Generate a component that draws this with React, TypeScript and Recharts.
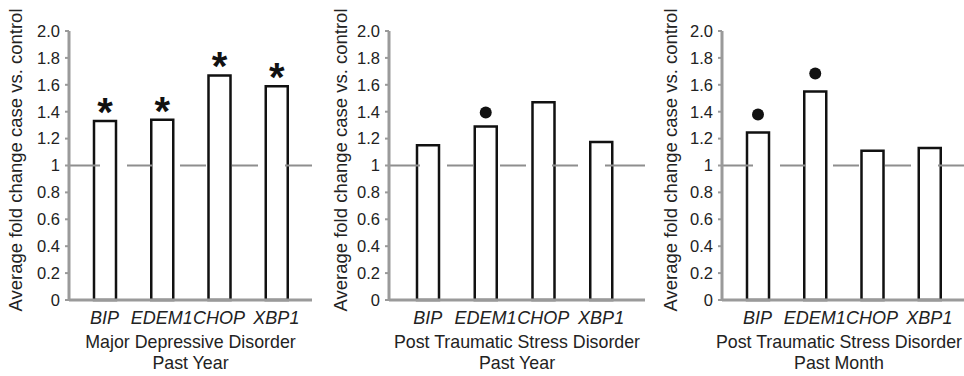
import React from "react";
import { BarChart, Bar, XAxis, YAxis, ReferenceLine, LabelList, Label } from "recharts";

// ---- data ----
const categories = ["BIP", "EDEM1", "CHOP", "XBP1"];
const yTicks = [0, 0.2, 0.4, 0.6, 0.8, 1, 1.2, 1.4, 1.6, 1.8, 2];
const yLabel = "Average fold change case vs. control";

const mddPastYear = [1.33, 1.34, 1.67, 1.59];
const mddPastYearMarks = ["*", "*", "*", "*"];
const mddTitle = ["Major Depressive Disorder", "Past Year"];

const ptsdPastYear = [1.15, 1.29, 1.47, 1.175];
const ptsdPastYearMarks = ["", "dot", "", ""];
const ptsdYearTitle = ["Post Traumatic Stress Disorder", "Past Year"];

const ptsdPastMonth = [1.245, 1.55, 1.11, 1.13];
const ptsdPastMonthMarks = ["dot", "dot", "", ""];
const ptsdMonthTitle = ["Post Traumatic Stress Disorder", "Past Month"];

const controlLevel = 1;

const buildRows = (values: number[], marks: string[]) =>
  categories.map((c, i) => ({ category: c, value: values[i], mark: marks[i] }));

// ---- styles ----
const FONT = "'Liberation Sans', Arial, Helvetica, sans-serif";
const TEXT = "#222";
const AXIS = "#9a9a9a";
const REF = "#8e8e8e";

const fmt = (v: number) => (v === 0 ? "0" : v === 1 ? "1" : v.toFixed(1));

function CatTick(props: any) {
  const { x, y, payload } = props;
  return (
    <text x={x} y={y + 24} textAnchor="middle" fontStyle="italic" fontSize={18} fill={TEXT} fontFamily={FONT}>
      {payload.value}
    </text>
  );
}

type PanelProps = {
  rows: any[];
  title: string[];
  left: number;
  width: number;
  right: number;
  padL: number;
  padR: number;
  labelX: number;
  dotOffset: number;
  titleShift: number;
};

function Panel({ rows, title, left, width, right, padL, padR, labelX, dotOffset, titleShift }: PanelProps) {
  const renderMark = (p: any) => {
    const { x, y, width: w, value } = p;
    if (!value) return null;
    const cx = Number(x) + Number(w) / 2;
    const top = Number(y);
    if (value === "*") {
      return (
        <text x={cx} y={top + 5} textAnchor="middle" fontSize={40} fontWeight="bold" fill="#111" fontFamily={FONT}>
          *
        </text>
      );
    }
    return <circle cx={cx} cy={top - dotOffset} r={6} fill="#111" />;
  };

  const renderYLabel = (p: any) => {
    const vb = p.viewBox || {};
    const bx = (vb.x || 0) + labelX;
    const cy = 160;
    return (
      <text
        x={bx}
        y={cy}
        transform={`rotate(-90, ${bx}, ${cy})`}
        textAnchor="middle"
        fontSize={18.5}
        fill={TEXT}
        fontFamily={FONT}
      >
        {yLabel}
      </text>
    );
  };

  const renderTitle = (p: any) => {
    const vb = p.viewBox || {};
    const cx = (vb.x || 0) + (vb.width || 0) / 2 + titleShift;
    const y0 = vb.y || 0;
    return (
      <g>
        <text x={cx} y={y0 + 48} textAnchor="middle" fontSize={17.8} fill={TEXT} fontFamily={FONT}>
          {title[0]}
        </text>
        <text x={cx} y={y0 + 69} textAnchor="middle" fontSize={17.8} fill={TEXT} fontFamily={FONT}>
          {title[1]}
        </text>
      </g>
    );
  };

  return (
    <div style={{ position: "absolute", left, top: 0, width, height: 376 }}>
      <BarChart
        width={width}
        height={376}
        data={rows}
        margin={{ top: 31, right, bottom: 46, left: 0 }}
        barSize={22}
      >
        <XAxis
          dataKey="category"
          height={30}
          padding={{ left: padL, right: padR }}
          axisLine={{ stroke: AXIS, strokeWidth: 3 }}
          tickLine={false}
          tickSize={0}
          tickMargin={0}
          tick={<CatTick />}
          interval={0}
        >
          <Label content={renderTitle} />
        </XAxis>
        <YAxis
          width={69}
          domain={[0, 2]}
          ticks={yTicks}
          interval={0}
          tickFormatter={fmt}
          axisLine={{ stroke: AXIS, strokeWidth: 3 }}
          tickLine={{ stroke: AXIS, strokeWidth: 2 }}
          tickSize={4}
          tickMargin={5}
          tick={{ fontSize: 16.5, fill: TEXT, fontFamily: FONT }}
        >
          <Label content={renderYLabel} />
        </YAxis>
        <Bar dataKey="value" fill="#fff" stroke="#111" strokeWidth={2.5} isAnimationActive={false}>
          <LabelList dataKey="mark" content={renderMark} />
        </Bar>
        <ReferenceLine
          y={controlLevel}
          stroke={REF}
          strokeWidth={2}
          strokeDasharray="31 27 26 27 26 26 26 27 40"
        />
      </BarChart>
    </div>
  );
}

export default function App() {
  return (
    <div style={{ position: "absolute", left: 0, top: 0, width: 964, height: 376, background: "#fff", fontFamily: FONT }}>
      <Panel rows={buildRows(mddPastYear, mddPastYearMarks)} title={mddTitle} left={0} width={320} right={8} padL={7} padR={7} labelX={22} dotOffset={14} titleShift={0} />
      <Panel rows={buildRows(ptsdPastYear, ptsdPastYearMarks)} title={ptsdYearTitle} left={320} width={330} right={5} padL={10} padR={15} labelX={27} dotOffset={14} titleShift={0} />
      <Panel rows={buildRows(ptsdPastMonth, ptsdPastMonthMarks)} title={ptsdMonthTitle} left={653} width={311} right={0} padL={7} padR={6} labelX={24} dotOffset={18} titleShift={-4} />
    </div>
  );
}
